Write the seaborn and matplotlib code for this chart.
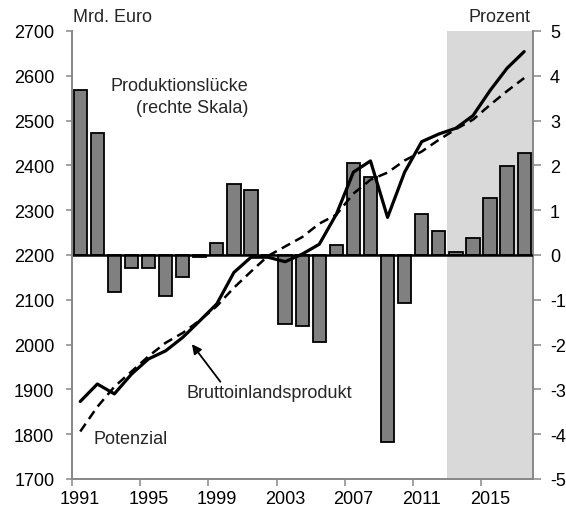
import numpy as np
import pandas as pd
import matplotlib
matplotlib.use("Agg")
import matplotlib.pyplot as plt
import seaborn as sns

# Jahre 1991-2017, Werte ab 2013 sind Projektion
years = list(range(1991, 2018))

# Produktionslücke in Prozent des Potenzials (rechte Skala)
output_gap = [3.69, 2.72, -0.82, -0.29, -0.30, -0.91, -0.50, -0.04, 0.26, 1.59,
              1.46, 0.00, -1.53, -1.59, -1.95, 0.23, 2.05, 1.73, -4.18, -1.08,
              0.91, 0.54, 0.06, 0.38, 1.28, 1.98, 2.28]

# Bruttoinlandsprodukt, Mrd. Euro (linke Skala)
gdp = [1873, 1912, 1890, 1934, 1968, 1986, 2016, 2053, 2091, 2161,
       2195, 2195, 2185, 2202, 2224, 2291, 2385, 2410, 2284, 2385,
       2453, 2470, 2483, 2511, 2567, 2617, 2654]

# Produktionspotenzial, Mrd. Euro (linke Skala)
potential = [1806, 1861, 1906, 1940, 1974, 2004, 2026, 2054, 2086, 2127,
             2163, 2198, 2219, 2240, 2270, 2290, 2337, 2368, 2384, 2411,
             2431, 2457, 2481, 2502, 2535, 2566, 2595]

left_ticks = list(range(1700, 2701, 100))
right_ticks = list(range(-5, 6))
label_years = [1991, 1995, 1999, 2003, 2007, 2011, 2015]
forecast_start = 2013

sns.set_theme(style="white")
plt.rcParams["font.family"] = ["Liberation Sans", "DejaVu Sans"]
plt.rcParams["font.size"] = 13

FS = 13
GREY = "#878787"

df = pd.DataFrame({"Jahr": [str(y) for y in years], "Luecke": output_gap,
                   "pos": np.arange(len(years)), "BIP": gdp, "Potenzial": potential})

fig = plt.figure(figsize=(5.66, 5.10), dpi=100)
ax = fig.add_axes([71.7 / 566, 1 - 480 / 510, (532.7 - 71.7) / 566, (480 - 32) / 510])

# Projektionszeitraum hinterlegen
fs = years.index(forecast_start) - 0.5
ax.axvspan(fs, len(years) - 0.5, color="#d9d9d9", lw=0, zorder=0)

sns.barplot(data=df, x="Jahr", y="Luecke", ax=ax, color="#808080", saturation=1,
            edgecolor="black", linewidth=1.3, width=0.78, zorder=2)
ax.axhline(0, color="black", lw=1.8, zorder=3)
ax.set_ylim(-5, 5)
ax.set_xlim(-0.5, len(years) - 0.5)

# Linien auf der linken Skala
ax2 = ax.twinx()
sns.lineplot(data=df, x="pos", y="BIP", ax=ax2, color="black", lw=2.3)
sns.lineplot(data=df, x="pos", y="Potenzial", ax=ax2, color="black", lw=1.8,
             linestyle=(0, (3.8, 2.3)))
ax2.set_ylim(1700, 2700)
ax2.set_xlim(-0.5, len(years) - 0.5)

# Achsen: Prozent rechts, Mrd. Euro links
ax.yaxis.tick_right()
ax2.yaxis.tick_left()
ax.set_yticks(right_ticks)
ax.set_yticklabels([str(t) for t in right_ticks])
ax2.set_yticks(left_ticks)
ax2.set_yticklabels([str(t) for t in left_ticks])
ax.set_xlabel("")
ax.set_ylabel("")
ax2.set_xlabel("")
ax2.set_ylabel("")

# Teilstriche an den Kategoriegrenzen, Beschriftung mittig
ax.set_xticks([years.index(y) - 0.5 for y in label_years])
ax.set_xticklabels([])
ax.set_xticks([years.index(y) for y in label_years], minor=True)
ax.set_xticklabels([str(y) for y in label_years], minor=True)
ax.tick_params(axis="x", which="major", direction="out", length=5, width=1.1,
               color=GREY, bottom=True)
ax.tick_params(axis="x", which="minor", length=0, pad=8, labelsize=FS,
               labelcolor="black", bottom=True)
ax.tick_params(axis="y", direction="out", length=5.5, width=1.1, color=GREY,
               pad=7, labelsize=FS, labelcolor="black", right=True, left=False)
ax2.tick_params(axis="y", direction="out", length=4.5, width=1.1, color=GREY,
                pad=8, labelsize=FS, labelcolor="black", left=True, right=False)

for a in (ax, ax2):
    for s in a.spines.values():
        s.set_visible(False)
    a.grid(False)
ax.spines["bottom"].set_visible(True)
ax.spines["right"].set_visible(True)
ax2.spines["left"].set_visible(True)
for s in (ax.spines["bottom"], ax.spines["right"], ax2.spines["left"]):
    s.set_color(GREY)
    s.set_linewidth(1.4)
ax.set_zorder(1)
ax2.set_zorder(2)
ax2.patch.set_visible(False)

# Beschriftungen
fig.text(73 / 566, 1 - 18 / 510, "Mrd. Euro", ha="left", va="center", fontsize=FS)
fig.text(531 / 566, 1 - 18 / 510, "Prozent", ha="right", va="center", fontsize=FS)
ax2.text(9.85, 2578, "Produktionslücke", ha="right", va="center", fontsize=FS)
ax2.text(9.85, 2530, "(rechte Skala)", ha="right", va="center", fontsize=FS)
ax2.text(6.25, 1894, "Bruttoinlandsprodukt", ha="left", va="center", fontsize=FS)
ax2.text(0.75, 1791, "Potenzial", ha="left", va="center", fontsize=FS)
ax2.annotate("", xy=(6.54, 2001), xytext=(8.21, 1917),
             arrowprops=dict(arrowstyle="-|>", color="black", lw=1.3,
                             mutation_scale=14, shrinkA=0, shrinkB=0))

fig.savefig("out.png", dpi=100)
